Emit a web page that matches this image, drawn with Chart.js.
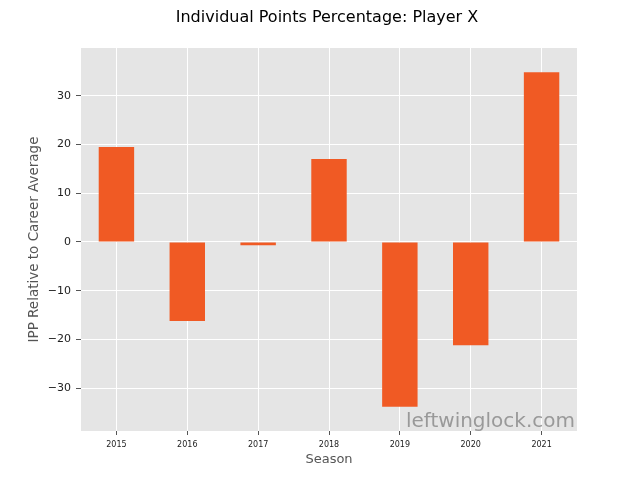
<!DOCTYPE html>
<html>
<head>
<meta charset="utf-8">
<script src="https://cdn.jsdelivr.net/npm/chart.js@4/dist/chart.umd.min.js"></script>
<style>
    html, body { margin: 0; padding: 0; background: #fff; }
    #wrap { width: 640px; height: 480px; }
</style>
</head>
<body>
<div id="wrap"><canvas id="ippChart" width="640" height="480"></canvas></div>
<script>
"use strict";

// data
const seasons = ['2015', '2016', '2017', '2018', '2019', '2020', '2021'];
const ippRelative = [19.5, -16.2, -0.7, 17.0, -33.8, -21.2, 34.8];
const yTicks = [-30, -20, -10, 0, 10, 20, 30];
const chartTitle = 'Individual Points Percentage: Player X';

const barColor = '#F05A24';
const panelColor = '#E5E5E5';

const ctx = document.getElementById('ippChart');

// gray panel behind the bars
const panelPlugin = {
    id: 'panel',
    beforeDraw: (chart) => {
        const a = chart.chartArea;
        const c = chart.ctx;
        c.save();
        c.fillStyle = panelColor;
        c.fillRect(a.left, a.top, a.right - a.left, a.bottom - a.top);
        c.restore();
    }
};

// title centred like the figure title of the original (not over the padded box)
const titlePlugin = {
    id: 'figTitle',
    afterDraw: (chart) => {
        const c = chart.ctx;
        c.save();
        c.font = '16px "DejaVu Sans"';
        c.fillStyle = '#000';
        c.textAlign = 'center';
        c.textBaseline = 'middle';
        c.fillText(chartTitle, 327, 18);
        c.restore();
    }
};

// watermark in the lower right corner
const watermarkPlugin = {
    id: 'watermark',
    afterDatasetsDraw: (chart) => {
        const a = chart.chartArea;
        const c = chart.ctx;
        c.save();
        c.font = '20px "DejaVu Sans"';
        c.fillStyle = 'rgba(140, 140, 140, 0.85)';
        c.textAlign = 'right';
        c.textBaseline = 'alphabetic';
        c.fillText('leftwinglock.com', a.right - 2, a.bottom - 4);
        c.restore();
    }
};

const config = {
    type: 'bar',
    data: {
        labels: seasons,
        datasets: [
            {
                data: ippRelative,
                backgroundColor: barColor,
                borderWidth: 0,
                barPercentage: 0.5,
                categoryPercentage: 1.0
            }
        ]
    },
    options: {
        responsive: false,
        animation: false,
        layout: {
            padding: { left: 0, right: 63, top: 48, bottom: 0 }
        },
        plugins: {
            legend: { display: false },
            tooltip: { enabled: false },
            title: { display: false }
        },
        scales: {
            x: {
                offset: true,
                grid: {
                    offset: false,
                    color: '#FFFFFF',
                    lineWidth: 1,
                    tickColor: '#555555',
                    tickLength: 4
                },
                border: { display: false },
                ticks: {
                    color: '#222',
                    font: { family: '"DejaVu Sans"', size: 8 },
                    padding: 5,
                    maxRotation: 0
                },
                title: {
                    display: true,
                    text: 'Season',
                    color: '#555555',
                    font: { family: '"DejaVu Sans"', size: 13, lineHeight: 1.2 },
                    padding: { top: 0, bottom: 13 }
                },
                afterFit: (scale) => { scale.height = 49; }
            },
            y: {
                min: -38.8,
                max: 39.8,
                afterBuildTicks: (scale) => {
                    scale.ticks = yTicks.map(v => ({ value: v }));
                },
                grid: {
                    color: '#FFFFFF',
                    lineWidth: 1,
                    tickColor: '#555555',
                    tickLength: 5
                },
                border: { display: false },
                ticks: {
                    color: '#222',
                    font: { family: '"DejaVu Sans"', size: 11 },
                    padding: 5,
                    callback: (v) => v < 0 ? '\u2212' + Math.abs(v) : String(v)
                },
                title: {
                    display: true,
                    text: 'IPP Relative to Career Average',
                    color: '#555555',
                    font: { family: '"DejaVu Sans"', size: 13.5, lineHeight: 1.2 },
                    padding: { top: 26, bottom: 0 }
                },
                afterFit: (scale) => { scale.width = 81; }
            }
        }
    },
    plugins: [panelPlugin, titlePlugin, watermarkPlugin]
};

var ippBarChart = new Chart(ctx, config);
</script>
</body>
</html>
